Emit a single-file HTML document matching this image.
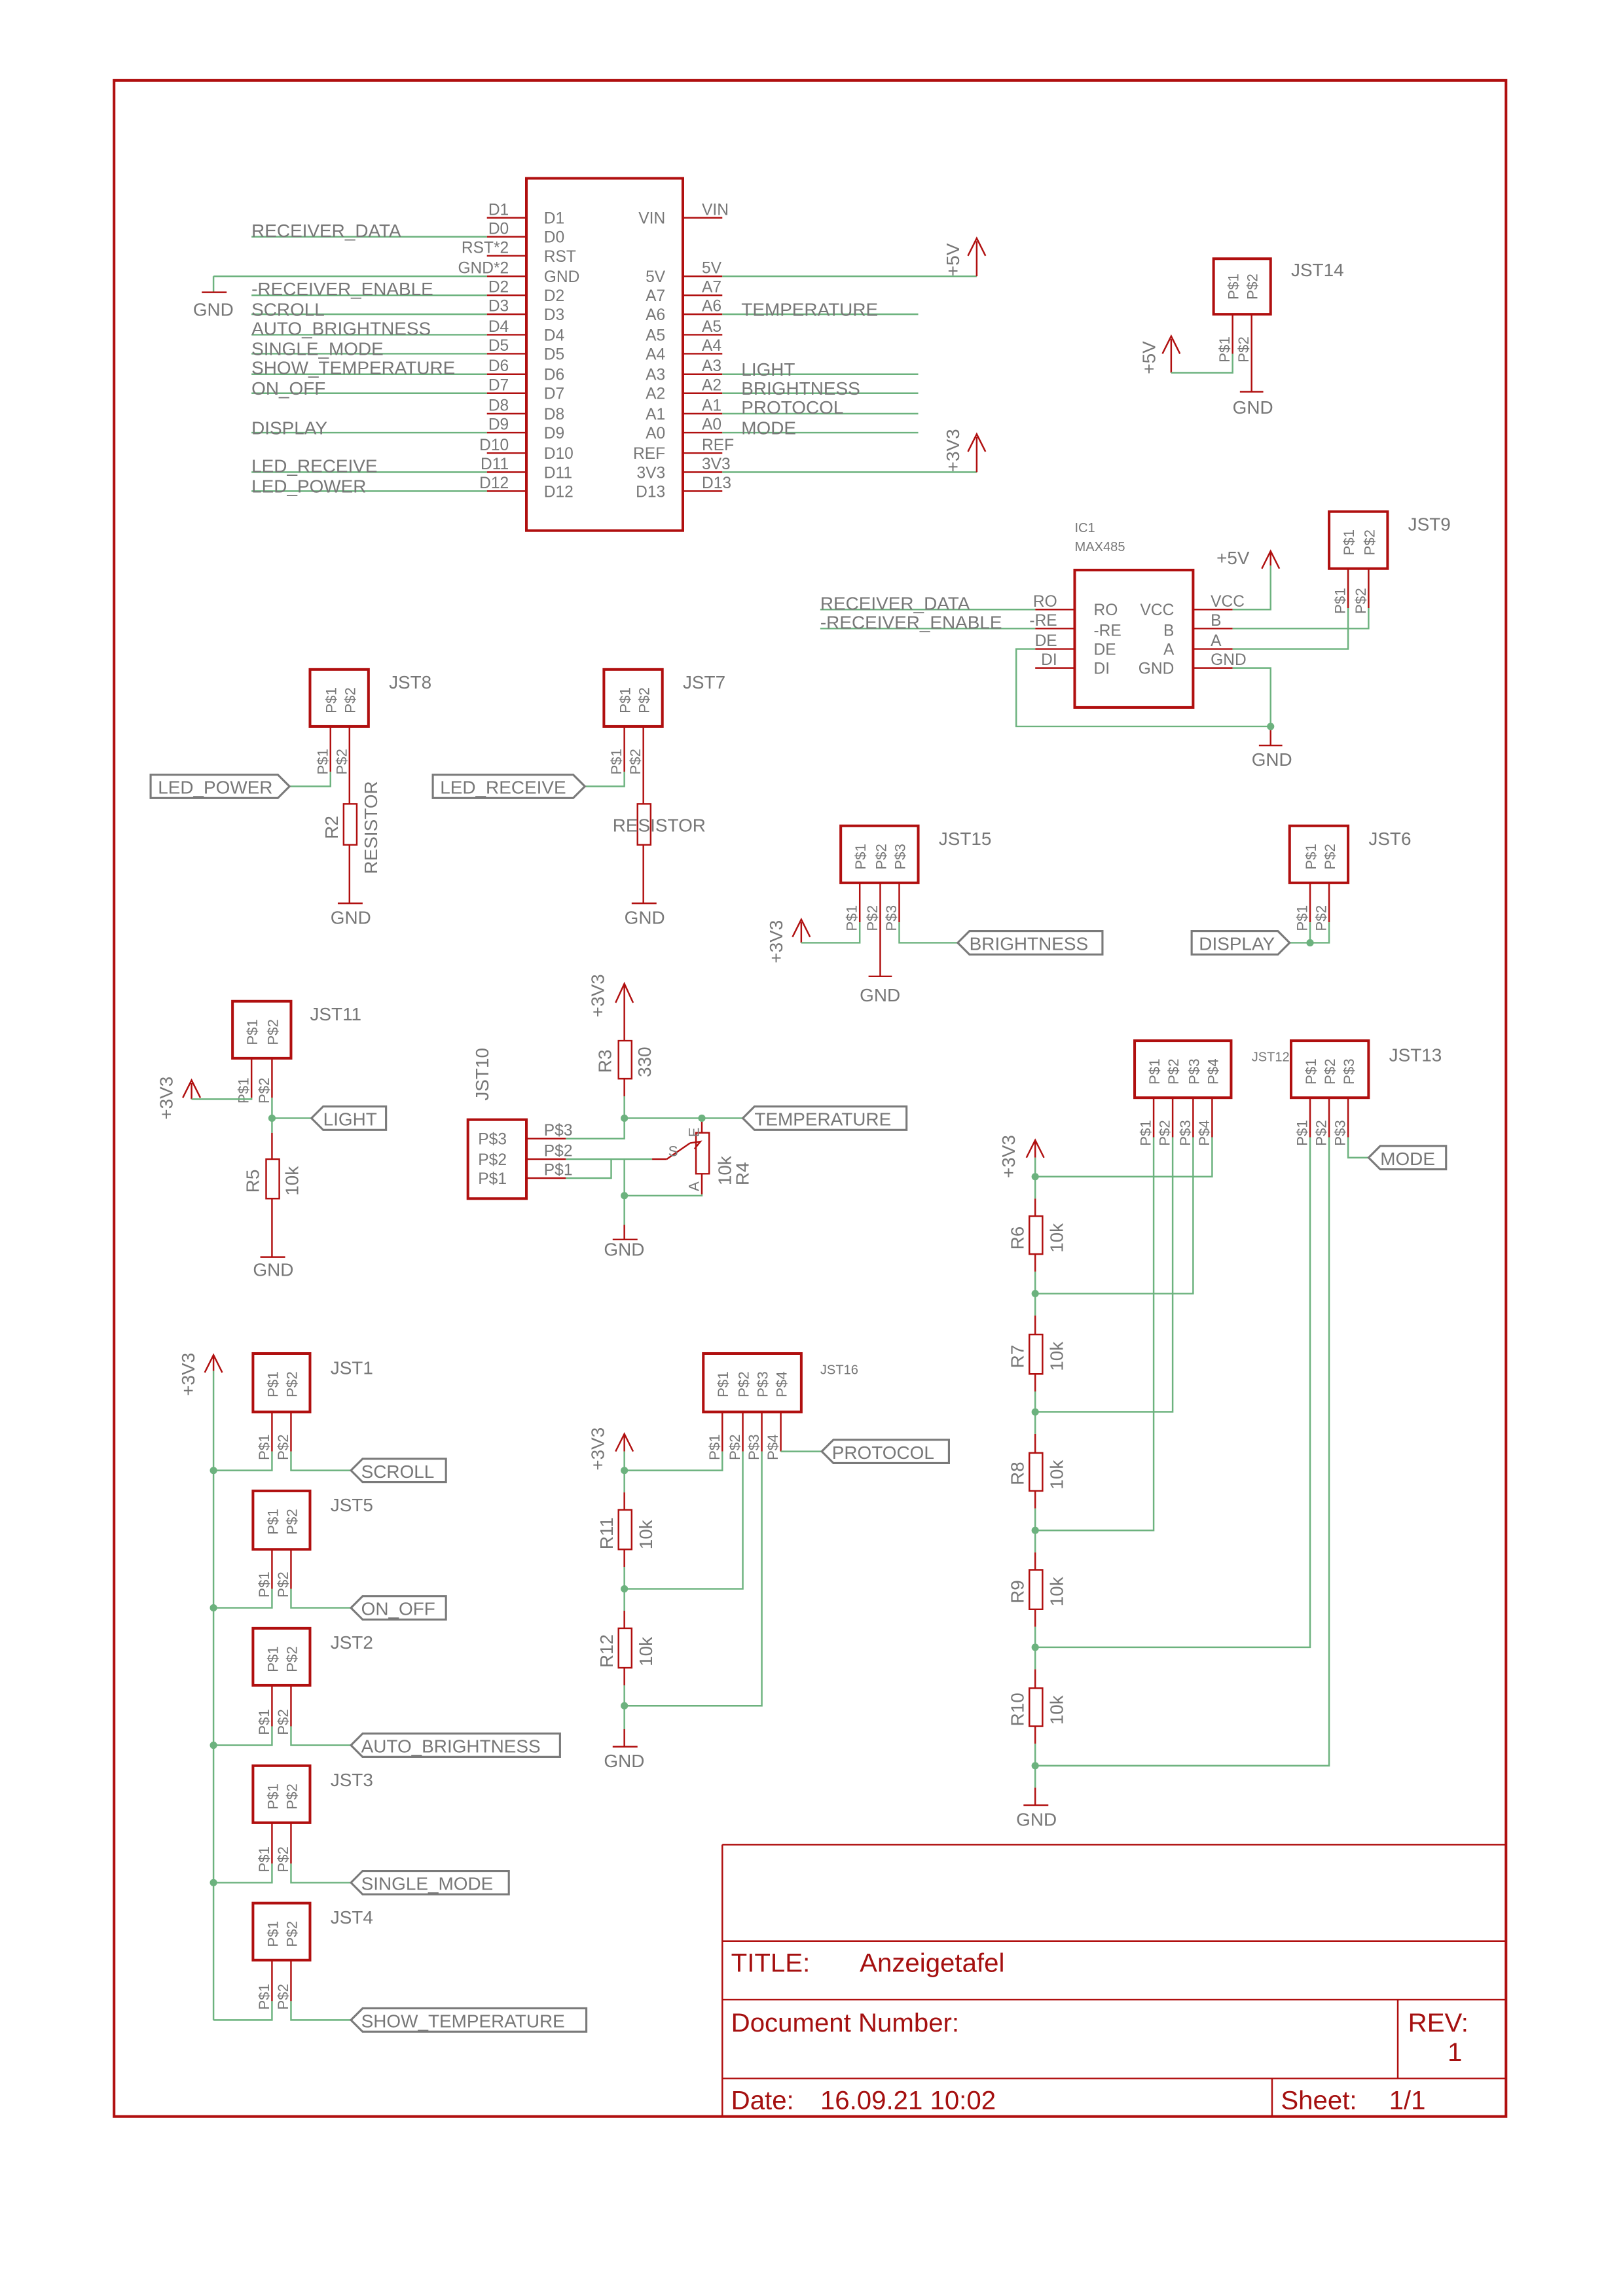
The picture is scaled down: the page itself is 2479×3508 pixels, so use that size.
<!DOCTYPE html>
<html><head><meta charset="utf-8"><style>
html,body{margin:0;padding:0;background:#fff}
svg{display:block}
.r{stroke:#b00f0f;fill:none;stroke-width:1.1}
.rb{stroke:#b00f0f;fill:none;stroke-width:1.8}
.g{stroke:#6cb27e;fill:none;stroke-width:1.1}
.f{stroke:#7a7a7a;fill:#fff;stroke-width:1.4}
text{font-family:"Liberation Sans",sans-serif;fill:#777}
.n{font-family:"Liberation Sans Narrow","Liberation Sans",sans-serif;font-size:11px}
.s{font-size:10px}
.m{font-size:12.5px}
.t{fill:#a51010;font-size:18px}
.e{text-anchor:end}
.c{text-anchor:middle}
</style></head><body>
<svg width="2479" height="3508" viewBox="0 0 1110 1570.8" xmlns="http://www.w3.org/2000/svg">
<rect x="78" y="55" width="952" height="1393" class="rb"/>
<!-- Title block -->
<path class="r" d="M494 1262H1030M494 1262V1448M494 1328H1030M494 1368H1030M494 1422H1030M956 1368V1422M870 1422V1448"/>
<text x="500" y="1349" class="t">TITLE:</text><text x="588" y="1349" class="t">Anzeigetafel</text>
<text x="500" y="1390" class="t">Document Number:</text>
<text x="963" y="1390" class="t">REV:</text><text x="990" y="1410" class="t">1</text>
<text x="500" y="1443" class="t">Date:</text><text x="561" y="1443" class="t">16.09.21 10:02</text>
<text x="876" y="1443" class="t">Sheet:</text><text x="950" y="1443" class="t">1/1</text>

<!-- Main chip -->
<rect x="360" y="122" width="107" height="241" class="rb"/>
<path class="r" d="M333 149H360M333 162H360M333 175H360M333 189H360M333 202H360M333 215H360M333 229H360M333 242H360M333 256H360M333 269H360M333 283H360M333 296H360M333 310H360M333 323H360M333 336H360"/>
<path class="r" d="M467 149H494M467 189H494M467 202H494M467 215H494M467 229H494M467 242H494M467 256H494M467 269H494M467 283H494M467 296H494M467 310H494M467 323H494M467 336H494"/>
<g class="n e">
<text x="348" y="147">D1</text><text x="348" y="160">D0</text><text x="348" y="173">RST*2</text><text x="348" y="187">GND*2</text>
<text x="348" y="200">D2</text><text x="348" y="213">D3</text><text x="348" y="227">D4</text><text x="348" y="240">D5</text>
<text x="348" y="254">D6</text><text x="348" y="267">D7</text><text x="348" y="281">D8</text><text x="348" y="294">D9</text>
<text x="348" y="308">D10</text><text x="348" y="321">D11</text><text x="348" y="334">D12</text>
<text x="455" y="153">VIN</text><text x="455" y="193">5V</text><text x="455" y="206">A7</text><text x="455" y="219">A6</text>
<text x="455" y="233">A5</text><text x="455" y="246">A4</text><text x="455" y="260">A3</text><text x="455" y="273">A2</text>
<text x="455" y="287">A1</text><text x="455" y="300">A0</text><text x="455" y="314">REF</text><text x="455" y="327">3V3</text><text x="455" y="340">D13</text>
</g>
<g class="n">
<text x="372" y="153">D1</text><text x="372" y="166">D0</text><text x="372" y="179">RST</text><text x="372" y="193">GND</text>
<text x="372" y="206">D2</text><text x="372" y="219">D3</text><text x="372" y="233">D4</text><text x="372" y="246">D5</text>
<text x="372" y="260">D6</text><text x="372" y="273">D7</text><text x="372" y="287">D8</text><text x="372" y="300">D9</text>
<text x="372" y="314">D10</text><text x="372" y="327">D11</text><text x="372" y="340">D12</text>
<text x="480" y="147">VIN</text><text x="480" y="187">5V</text><text x="480" y="200">A7</text><text x="480" y="213">A6</text>
<text x="480" y="227">A5</text><text x="480" y="240">A4</text><text x="480" y="254">A3</text><text x="480" y="267">A2</text>
<text x="480" y="281">A1</text><text x="480" y="294">A0</text><text x="480" y="308">REF</text><text x="480" y="321">3V3</text><text x="480" y="334">D13</text>
</g>
<path class="g" d="M172 162H333M146 189H333M146 189V200M172 202H333M172 215H333M172 229H333M172 242H333M172 256H333M172 269H333M172 296H333M172 323H333M172 336H333"/>
<path class="g" d="M494 189H668M494 215H628M494 256H628M494 269H628M494 283H628M494 296H628M494 323H668"/>
<path class="r" d="M138 200H155M668 189V165M662 175L668 163L674 175M668 323V299M662 309L668 297L674 309"/>
<text x="132" y="216" class="m">GND</text>
<g class="m">
<text x="172" y="162">RECEIVER_DATA</text><text x="172" y="202">-RECEIVER_ENABLE</text><text x="172" y="216">SCROLL</text>
<text x="172" y="229">AUTO_BRIGHTNESS</text><text x="172" y="243">SINGLE_MODE</text><text x="172" y="256">SHOW_TEMPERATURE</text>
<text x="172" y="270">ON_OFF</text><text x="172" y="297">DISPLAY</text><text x="172" y="323">LED_RECEIVE</text><text x="172" y="337">LED_POWER</text>
<text x="507" y="216">TEMPERATURE</text><text x="507" y="257">LIGHT</text><text x="507" y="270">BRIGHTNESS</text>
<text x="507" y="283">PROTOCOL</text><text x="507" y="297">MODE</text>
</g>
<text class="m" transform="translate(656,189) rotate(-90)">+5V</text>
<text class="m" transform="translate(656,323) rotate(-90)">+3V3</text>

<!-- JST14 -->
<rect x="830" y="177" width="39" height="38" class="rb"/>
<text class="s" transform="translate(847,205) rotate(-90)">P$1</text><text class="s" transform="translate(860,205) rotate(-90)">P$2</text>
<text x="883" y="189" class="m">JST14</text>
<path class="r" d="M843 215V242M856 215V255M856 255V268M848 268H864M801 255V232M795 242L801 230L807 242"/>
<path class="g" d="M843 242V255H801"/>
<text class="s" transform="translate(841,248) rotate(-90)">P$1</text><text class="s" transform="translate(854,248) rotate(-90)">P$2</text>
<text class="m" transform="translate(790,256) rotate(-90)">+5V</text>
<text x="843" y="283" class="m">GND</text>

<!-- IC1 MAX485 -->
<text x="735" y="364" class="s" style="font-size:9px">IC1</text><text x="735" y="377" class="s" style="font-size:9px">MAX485</text>
<rect x="735" y="390" width="81" height="94" class="rb"/>
<path class="r" d="M708 417H735M708 430H735M708 444H735M708 457H735M816 417H843M816 430H843M816 444H843M816 457H843M869 387V377M863 389L869 377L875 389M869 497V510M861 510H877"/>
<g class="n">
<text x="748" y="421">RO</text><text x="748" y="435">-RE</text><text x="748" y="448">DE</text><text x="748" y="461">DI</text>
<text x="828" y="415">VCC</text><text x="828" y="428">B</text><text x="828" y="442">A</text><text x="828" y="455">GND</text>
</g>
<g class="n e">
<text x="803" y="421">VCC</text><text x="803" y="435">B</text><text x="803" y="448">A</text><text x="803" y="461">GND</text>
<text x="723" y="415">RO</text><text x="723" y="428">-RE</text><text x="723" y="442">DE</text><text x="723" y="455">DI</text>
</g>
<text x="832" y="386" class="m">+5V</text>
<path class="g" d="M561 417H708M561 430H708M708 444H695V497H869M843 457H869V497M843 417H869V387M843 430H936V389M843 444H922V389"/>
<circle cx="869" cy="497" r="2.5" fill="#6cb27e"/>
<g class="m"><text x="561" y="417">RECEIVER_DATA</text><text x="561" y="430">-RECEIVER_ENABLE</text></g>
<text x="856" y="524" class="m">GND</text>
<!-- JST9 -->
<rect x="909" y="350" width="40" height="39" class="rb"/>
<text class="s" transform="translate(926,380) rotate(-90)">P$1</text><text class="s" transform="translate(940,380) rotate(-90)">P$2</text>
<path class="r" d="M922 389V416M936 389V416"/>
<text class="s" transform="translate(920,420) rotate(-90)">P$1</text><text class="s" transform="translate(934,420) rotate(-90)">P$2</text>
<text x="963" y="363" class="m">JST9</text>

<!-- JST8 -->
<rect x="212" y="458" width="40" height="39" class="rb"/>
<text class="s" transform="translate(230,488) rotate(-90)">P$1</text><text class="s" transform="translate(243,488) rotate(-90)">P$2</text>
<text x="266" y="471" class="m">JST8</text>
<path class="r" d="M226 497V528M239 497V542M239 542V550M235 550H244V578H235ZM239 578V618M231 618H248"/>
<text class="s" transform="translate(224,530) rotate(-90)">P$1</text><text class="s" transform="translate(237,530) rotate(-90)">P$2</text>
<path class="g" d="M226 528V538H198"/>
<polygon class="f" points="103,530 190,530 198,538 190,546 103,546"/>
<text x="108" y="543" class="m">LED_POWER</text>
<text class="m" transform="translate(231,574) rotate(-90)">R2</text>
<text class="m" transform="translate(258,598) rotate(-90)">RESISTOR</text>
<text x="226" y="632" class="m">GND</text>

<!-- JST7 -->
<rect x="413" y="458" width="40" height="39" class="rb"/>
<text class="s" transform="translate(431,488) rotate(-90)">P$1</text><text class="s" transform="translate(444,488) rotate(-90)">P$2</text>
<text x="467" y="471" class="m">JST7</text>
<path class="r" d="M427 497V528M440 497V550M436 550H445V578H436ZM440 578V618M432 618H449"/>
<text class="s" transform="translate(425,530) rotate(-90)">P$1</text><text class="s" transform="translate(438,530) rotate(-90)">P$2</text>
<path class="g" d="M427 528V538H400"/>
<polygon class="f" points="296,530 392,530 400,538 392,546 296,546"/>
<text x="301" y="543" class="m">LED_RECEIVE</text>
<text x="419" y="569" class="m">RESISTOR</text>
<text x="427" y="632" class="m">GND</text>

<!-- JST15 -->
<rect x="575" y="565" width="53" height="39" class="rb"/>
<text class="s" transform="translate(592,595) rotate(-90)">P$1</text><text class="s" transform="translate(606,595) rotate(-90)">P$2</text><text class="s" transform="translate(619,595) rotate(-90)">P$3</text>
<text x="642" y="578" class="m">JST15</text>
<path class="r" d="M588 604V631M602 604V658M615 604V631M594 668H610M602 658V668M548 645V631M542 641L548 629L554 641"/>
<text class="s" transform="translate(586,637) rotate(-90)">P$1</text><text class="s" transform="translate(600,637) rotate(-90)">P$2</text><text class="s" transform="translate(613,637) rotate(-90)">P$3</text>
<path class="g" d="M588 631V645H548M615 631V645H655"/>
<polygon class="f" points="655,645 663,637 754,637 754,653 663,653"/>
<text x="663" y="650" class="m">BRIGHTNESS</text>
<text class="m" transform="translate(535,659) rotate(-90)">+3V3</text>
<text x="588" y="685" class="m">GND</text>

<!-- JST6 -->
<rect x="882" y="565" width="40" height="39" class="rb"/>
<text class="s" transform="translate(900,595) rotate(-90)">P$1</text><text class="s" transform="translate(913,595) rotate(-90)">P$2</text>
<text x="936" y="578" class="m">JST6</text>
<path class="r" d="M896 604V631M909 604V631"/>
<text class="s" transform="translate(894,637) rotate(-90)">P$1</text><text class="s" transform="translate(907,637) rotate(-90)">P$2</text>
<path class="g" d="M896 631V645M909 631V645H882"/>
<circle cx="896" cy="645" r="2.5" fill="#6cb27e"/>
<polygon class="f" points="815,637 874,637 882,645 874,653 815,653"/>
<text x="820" y="650" class="m">DISPLAY</text>

<!-- JST11 -->
<rect x="159" y="685" width="40" height="39" class="rb"/>
<text class="s" transform="translate(176,715) rotate(-90)">P$1</text><text class="s" transform="translate(190,715) rotate(-90)">P$2</text>
<text x="212" y="698" class="m">JST11</text>
<path class="r" d="M172 724V751M186 724V751M186 775V793M182 793H191V820H182ZM186 820V860M178 860H195M131 752V741M125 751L131 739L137 751"/>
<text class="s" transform="translate(170,755) rotate(-90)">P$1</text><text class="s" transform="translate(184,755) rotate(-90)">P$2</text>
<path class="g" d="M172 751V752H131M186 751V775M186 765H213"/>
<circle cx="186" cy="765" r="2.5" fill="#6cb27e"/>
<polygon class="f" points="213,765 221,757 264,757 264,773 221,773"/>
<text x="221" y="770" class="m">LIGHT</text>
<text class="m" transform="translate(118,766) rotate(-90)">+3V3</text>
<text class="m" transform="translate(177,816) rotate(-90)">R5</text>
<text class="m" transform="translate(204,818) rotate(-90)">10k</text>
<text x="173" y="873" class="m">GND</text>

<!-- JST10 / R3 / R4 -->
<rect x="320" y="766" width="40" height="54" class="rb"/>
<g class="n"><text x="327" y="783">P$3</text><text x="327" y="797">P$2</text><text x="327" y="810">P$1</text>
<text x="372" y="777">P$3</text><text x="372" y="791">P$2</text><text x="372" y="804">P$1</text></g>
<text class="m" transform="translate(334,753) rotate(-90)">JST10</text>
<path class="r" d="M360 779H387M360 793H387M360 806H387M427 697V674M421 686L427 673L433 686M427 697V712M423 712H432V738H423ZM427 738V750M427 838V848M419 848H436"/>
<path class="g" d="M387 779H427V765M427 750V765H508M387 793H427V838M387 806H418V793H446"/>
<path class="r" d="M446 793H456M480 765V775M476 775H485V803H476ZM480 803V817M456 793L472 782M472 782L479 781L475 786"/>
<path class="g" d="M427 818H480V817"/>
<circle cx="427" cy="765" r="2.5" fill="#6cb27e"/><circle cx="480" cy="765" r="2.5" fill="#6cb27e"/><circle cx="427" cy="818" r="2.5" fill="#6cb27e"/>
<polygon class="f" points="508,765 516,757 620,757 620,773 516,773"/>
<text x="516" y="770" class="m">TEMPERATURE</text>
<text class="m" transform="translate(413,696) rotate(-90)">+3V3</text>
<text class="m" transform="translate(418,734) rotate(-90)">R3</text>
<text class="m" transform="translate(445,737) rotate(-90)">330</text>
<text class="s" x="457" y="791">S</text>
<text class="s" transform="translate(478,778) rotate(-90)">E</text>
<text class="s" transform="translate(478,815) rotate(-90)">A</text>
<text class="m" transform="translate(500,811) rotate(-90)">10k</text>
<text class="m" transform="translate(512,811) rotate(-90)">R4</text>
<text x="413" y="859" class="m">GND</text>

<!-- JST12 / JST13 / R6-R10 -->
<rect x="776" y="712" width="66" height="39" class="rb"/>
<text class="s" transform="translate(793,742) rotate(-90)">P$1</text><text class="s" transform="translate(806,742) rotate(-90)">P$2</text><text class="s" transform="translate(820,742) rotate(-90)">P$3</text><text class="s" transform="translate(833,742) rotate(-90)">P$4</text>
<text x="856" y="726" class="s" style="font-size:9px">JST12</text>
<path class="r" d="M789 751V778M802 751V778M816 751V778M829 751V778"/>
<text class="s" transform="translate(787,784) rotate(-90)">P$1</text><text class="s" transform="translate(800,784) rotate(-90)">P$2</text><text class="s" transform="translate(814,784) rotate(-90)">P$3</text><text class="s" transform="translate(827,784) rotate(-90)">P$4</text>
<rect x="883" y="712" width="53" height="39" class="rb"/>
<text class="s" transform="translate(900,742) rotate(-90)">P$1</text><text class="s" transform="translate(913,742) rotate(-90)">P$2</text><text class="s" transform="translate(926,742) rotate(-90)">P$3</text>
<text x="950" y="726" class="m">JST13</text>
<path class="r" d="M896 751V778M909 751V778M922 751V778"/>
<text class="s" transform="translate(894,784) rotate(-90)">P$1</text><text class="s" transform="translate(907,784) rotate(-90)">P$2</text><text class="s" transform="translate(920,784) rotate(-90)">P$3</text>
<path class="g" d="M922 778V792H936"/>
<polygon class="f" points="936,792 944,784 989,784 989,800 944,800"/>
<text x="944" y="797" class="m">MODE</text>
<path class="r" d="M708 792V781M702 792L708 780L714 792M708 820V832M704 832H713V858H704ZM708 858V870M708 900V913M704 913H713V940H704ZM708 940V952M708 981V994M704 994H713V1020H704ZM708 1020V1032M708 1062V1074M704 1074H713V1101H704ZM708 1101V1113M708 1142V1155M704 1155H713V1181H704ZM708 1181V1193M708 1223V1235M700 1235H717"/>
<path class="g" d="M708 792V820M708 870V900M708 952V981M708 1032V1062M708 1113V1142M708 1193V1223M708 805H829V778M708 885H816V778M708 966H802V778M708 1047H789V778M708 1127H896V778M708 1208H909V778"/>
<circle cx="708" cy="805" r="2.5" fill="#6cb27e"/><circle cx="708" cy="885" r="2.5" fill="#6cb27e"/><circle cx="708" cy="966" r="2.5" fill="#6cb27e"/><circle cx="708" cy="1047" r="2.5" fill="#6cb27e"/><circle cx="708" cy="1127" r="2.5" fill="#6cb27e"/><circle cx="708" cy="1208" r="2.5" fill="#6cb27e"/>
<text class="m" transform="translate(694,806) rotate(-90)">+3V3</text>
<text class="m" transform="translate(700,855) rotate(-90)">R6</text><text class="m" transform="translate(727,857) rotate(-90)">10k</text>
<text class="m" transform="translate(700,936) rotate(-90)">R7</text><text class="m" transform="translate(727,938) rotate(-90)">10k</text>
<text class="m" transform="translate(700,1016) rotate(-90)">R8</text><text class="m" transform="translate(727,1019) rotate(-90)">10k</text>
<text class="m" transform="translate(700,1097) rotate(-90)">R9</text><text class="m" transform="translate(727,1099) rotate(-90)">10k</text>
<text class="m" transform="translate(700,1181) rotate(-90)">R10</text><text class="m" transform="translate(727,1180) rotate(-90)">10k</text>
<text x="695" y="1249" class="m">GND</text>

<!-- Left column JST1..JST4 -->
<path class="r" d="M146 938V928M140 939L146 927L152 939"/>
<path class="g" d="M146 938V1382"/>
<text class="m" transform="translate(133,955) rotate(-90)">+3V3</text>
<!-- JST1 -->
<rect x="173" y="926" width="39" height="40" class="rb"/>
<text class="s" transform="translate(190,956) rotate(-90)">P$1</text><text class="s" transform="translate(203,956) rotate(-90)">P$2</text>
<text x="226" y="940" class="m">JST1</text>
<path class="r" d="M186 966V993M199 966V993"/>
<text class="s" transform="translate(184,999) rotate(-90)">P$1</text><text class="s" transform="translate(197,999) rotate(-90)">P$2</text>
<path class="g" d="M186 993V1006H146M199 993V1006H240"/>
<polygon class="f" points="240,1006 248,998 305,998 305,1014 248,1014"/>
<text x="247" y="1011" class="m">SCROLL</text>
<!-- JST5 -->
<rect x="173" y="1020" width="39" height="40" class="rb"/>
<text class="s" transform="translate(190,1050) rotate(-90)">P$1</text><text class="s" transform="translate(203,1050) rotate(-90)">P$2</text>
<text x="226" y="1034" class="m">JST5</text>
<path class="r" d="M186 1060V1087M199 1060V1087"/>
<text class="s" transform="translate(184,1093) rotate(-90)">P$1</text><text class="s" transform="translate(197,1093) rotate(-90)">P$2</text>
<path class="g" d="M186 1087V1100H146M199 1087V1100H240"/>
<polygon class="f" points="240,1100 248,1092 305,1092 305,1108 248,1108"/>
<text x="247" y="1105" class="m">ON_OFF</text>
<!-- JST2 -->
<rect x="173" y="1114" width="39" height="39" class="rb"/>
<text class="s" transform="translate(190,1144) rotate(-90)">P$1</text><text class="s" transform="translate(203,1144) rotate(-90)">P$2</text>
<text x="226" y="1128" class="m">JST2</text>
<path class="r" d="M186 1153V1181M199 1153V1181"/>
<text class="s" transform="translate(184,1187) rotate(-90)">P$1</text><text class="s" transform="translate(197,1187) rotate(-90)">P$2</text>
<path class="g" d="M186 1181V1194H146M199 1181V1194H240"/>
<polygon class="f" points="240,1194 248,1186 383,1186 383,1202 248,1202"/>
<text x="247" y="1199" class="m">AUTO_BRIGHTNESS</text>
<!-- JST3 -->
<rect x="173" y="1208" width="39" height="39" class="rb"/>
<text class="s" transform="translate(190,1238) rotate(-90)">P$1</text><text class="s" transform="translate(203,1238) rotate(-90)">P$2</text>
<text x="226" y="1222" class="m">JST3</text>
<path class="r" d="M186 1247V1275M199 1247V1275"/>
<text class="s" transform="translate(184,1281) rotate(-90)">P$1</text><text class="s" transform="translate(197,1281) rotate(-90)">P$2</text>
<path class="g" d="M186 1275V1288H146M199 1275V1288H240"/>
<polygon class="f" points="240,1288 248,1280 348,1280 348,1296 248,1296"/>
<text x="247" y="1293" class="m">SINGLE_MODE</text>
<!-- JST4 -->
<rect x="173" y="1302" width="39" height="39" class="rb"/>
<text class="s" transform="translate(190,1332) rotate(-90)">P$1</text><text class="s" transform="translate(203,1332) rotate(-90)">P$2</text>
<text x="226" y="1316" class="m">JST4</text>
<path class="r" d="M186 1341V1369M199 1341V1369"/>
<text class="s" transform="translate(184,1375) rotate(-90)">P$1</text><text class="s" transform="translate(197,1375) rotate(-90)">P$2</text>
<path class="g" d="M186 1369V1382H146M199 1369V1382H240"/>
<polygon class="f" points="240,1382 248,1374 401,1374 401,1390 248,1390"/>
<text x="247" y="1387" class="m">SHOW_TEMPERATURE</text>
<circle cx="146" cy="1006" r="2.5" fill="#6cb27e"/><circle cx="146" cy="1100" r="2.5" fill="#6cb27e"/><circle cx="146" cy="1194" r="2.5" fill="#6cb27e"/><circle cx="146" cy="1288" r="2.5" fill="#6cb27e"/>

<!-- JST16 / R11 R12 -->
<rect x="481" y="926" width="67" height="40" class="rb"/>
<text class="s" transform="translate(498,956) rotate(-90)">P$1</text><text class="s" transform="translate(512,956) rotate(-90)">P$2</text><text class="s" transform="translate(525,956) rotate(-90)">P$3</text><text class="s" transform="translate(538,956) rotate(-90)">P$4</text>
<text x="561" y="940" class="s" style="font-size:9px">JST16</text>
<path class="r" d="M494 966V993M508 966V993M521 966V993M534 966V993"/>
<text class="s" transform="translate(492,999) rotate(-90)">P$1</text><text class="s" transform="translate(506,999) rotate(-90)">P$2</text><text class="s" transform="translate(519,999) rotate(-90)">P$3</text><text class="s" transform="translate(532,999) rotate(-90)">P$4</text>
<path class="r" d="M427 993V982M421 993L427 981L433 993M427 1021V1033M423 1033H432V1060H423ZM427 1060V1072M427 1102V1114M423 1114H432V1141H423ZM427 1141V1153M427 1183V1195M419 1195H436"/>
<path class="g" d="M427 993V1021M427 1072V1102M427 1153V1183M494 993V1006H427M508 993V1087H427M521 993V1167H427M534 993H562"/>
<circle cx="427" cy="1006" r="2.5" fill="#6cb27e"/><circle cx="427" cy="1087" r="2.5" fill="#6cb27e"/><circle cx="427" cy="1167" r="2.5" fill="#6cb27e"/>
<polygon class="f" points="562,993 570,985 649,985 649,1001 570,1001"/>
<text x="569" y="998" class="m">PROTOCOL</text>
<text class="m" transform="translate(413,1006) rotate(-90)">+3V3</text>
<text class="m" transform="translate(419,1060) rotate(-90)">R11</text><text class="m" transform="translate(446,1060) rotate(-90)">10k</text>
<text class="m" transform="translate(419,1141) rotate(-90)">R12</text><text class="m" transform="translate(446,1140) rotate(-90)">10k</text>
<text x="413" y="1209" class="m">GND</text>
</svg>
</body></html>
